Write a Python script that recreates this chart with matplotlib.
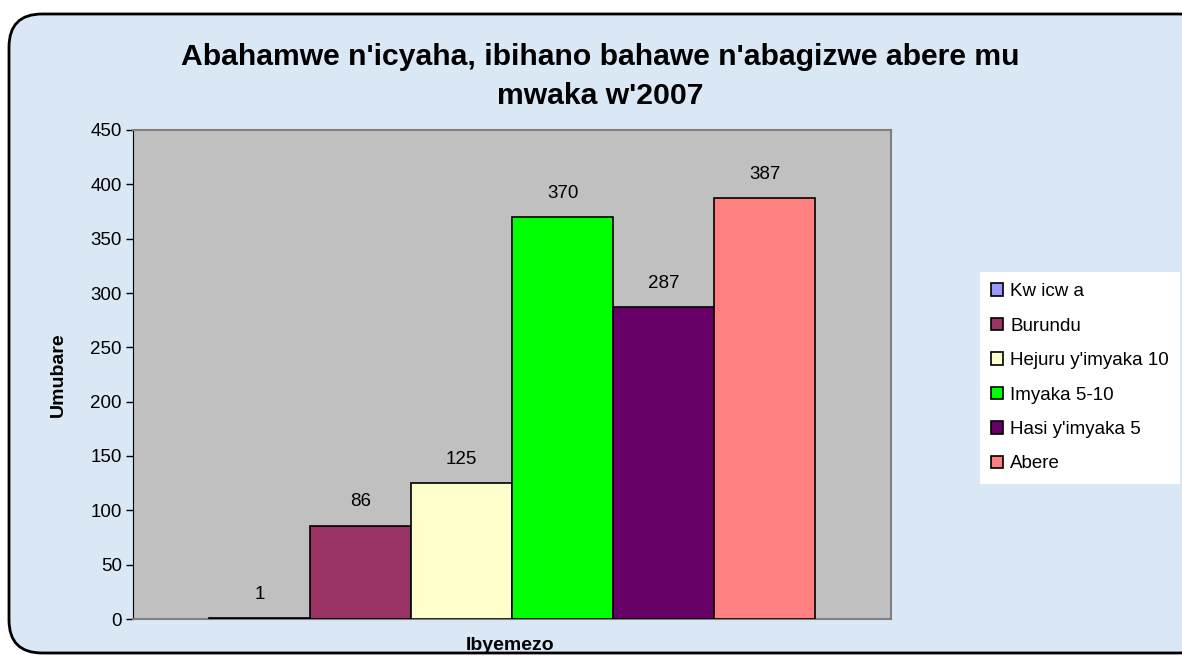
import matplotlib
matplotlib.use("Agg")
import matplotlib.pyplot as plt
from matplotlib.patches import FancyBboxPatch

categories = ["Kw icw a", "Burundu", "Hejuru y'imyaka 10", "Imyaka 5-10", "Hasi y'imyaka 5", "Abere"]
values = [1, 86, 125, 370, 287, 387]
colors = ["#9999FF", "#993366", "#FFFFCC", "#00FF00", "#660066", "#FF8080"]
title_lines = ["Abahamwe n'icyaha, ibihano bahawe n'abagizwe abere mu", "mwaka w'2007"]
yticks = [0, 50, 100, 150, 200, 250, 300, 350, 400, 450]

plt.rcParams['font.family'] = ['Liberation Sans', 'DejaVu Sans']

W, H = 1182, 665
fig = plt.figure(figsize=(W/100, H/100), dpi=100)
fig.patch.set_facecolor("white")

# rounded background frame
frame = FancyBboxPatch((9/W, 12/H), (W - 9 + 30)/W, (H - 14 - 12)/H,
                       boxstyle="round,pad=0,rounding_size=0.028",
                       transform=fig.transFigure, facecolor="#DAE7F5",
                       edgecolor="black", linewidth=2, mutation_aspect=W/H, zorder=-10)
fig.patches.append(frame)

left, right, top, bottom = 133, 891, 130, 619
ax = fig.add_axes([left/W, 1 - bottom/H, (right-left)/W, (bottom-top)/H])
ax.set_facecolor("#C0C0C0")

x = list(range(len(values)))
bars = ax.bar(x, values, width=1.0, color=colors, edgecolor="black", linewidth=1.2, label=categories, zorder=3)
for b, v in zip(bars, values):
    ax.text(b.get_x() + b.get_width()/2, v + 14, str(v), ha="center", va="bottom", fontsize=13.5, zorder=4)

ax.set_xlim(-1.25, 6.25)
ax.set_ylim(0, 450)
ax.set_yticks(yticks)
ax.set_yticklabels([str(t) for t in yticks], fontsize=13.5)
ax.set_xticks([])
ax.tick_params(axis="y", direction="out", length=5, width=1, pad=3)
for s in ["top", "right"]:
    ax.spines[s].set_color("#808080")
    ax.spines[s].set_linewidth(1.5)
ax.spines["left"].set_color("black")
ax.spines["bottom"].set_color("#808080")
ax.spines["bottom"].set_linewidth(1.5)

ax.set_ylabel("Umubare", fontsize=14, fontweight="bold", va="center")
ax.yaxis.set_label_coords((58 - left) / (right - left), 0.5)
ax.set_xlabel("Ibyemezo", fontsize=14, fontweight="bold", va="center")
ax.xaxis.set_label_coords((510 - left) / (right - left), -(645 - bottom) / (bottom - top))

fig.text(600/W, 1 - 57/H, title_lines[0], ha="center", va="center", fontsize=21.7, fontweight="bold")
fig.text(600/W, 1 - 96/H, title_lines[1], ha="center", va="center", fontsize=21.7, fontweight="bold")

leg = fig.legend(handles=bars, labels=categories, loc="upper left",
                 bbox_to_anchor=(980/W, 1 - 272/H), fontsize=13.5, frameon=True,
                 fancybox=False, edgecolor="white", framealpha=1,
                 handlelength=0.65, handleheight=0.65, handletextpad=0.35,
                 labelspacing=0.93, borderpad=0.6, borderaxespad=0)
leg.get_frame().set_linewidth(0)

fig.savefig("out.png", dpi=100)
